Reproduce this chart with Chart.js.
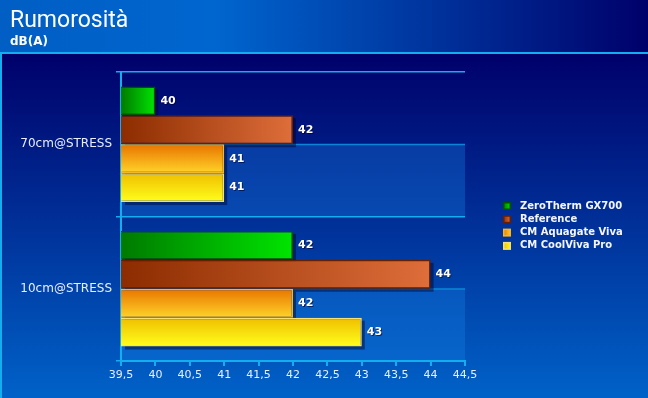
<!DOCTYPE html>
<html>
<head>
<meta charset="utf-8">
<script src="https://cdn.jsdelivr.net/npm/chart.js@4/dist/chart.umd.min.js"></script>
<style>
  html, body { margin: 0; padding: 0; background: #000066; }
  #noiseChart { display: block; }
</style>
</head>
<body>
<canvas id="noiseChart" width="648" height="398"></canvas>
<script>
// data
const categories = ['70cm@STRESS', '10cm@STRESS'];
const seriesNames = ['ZeroTherm GX700', 'Reference', 'CM Aquagate Viva', 'CM CoolViva Pro'];
const zeroTherm = [40, 42];
const reference = [42, 44];
const aquagate = [41, 42];
const coolViva = [41, 43];
const xMin = 39.5, xMax = 44.5, xStep = 0.5;

const titleText = 'Rumorosità';
const unitText = 'dB(A)';

// gradient stops per series: [start, end], horizontal or vertical
const fills = [
  { stops: ['#007a00', '#00e400'], vertical: false, border: '#005200' },
  { stops: ['#8c2c00', '#de6e3a'], vertical: false, border: '#6a1e00' },
  { stops: ['#e87400', '#ffd428'], vertical: true, border: '#f2b828' },
  { stops: ['#efbe00', '#ffff1c'], vertical: true, border: '#f8e070' }
];

const cyan = '#12aef0';
const font = 'DejaVu Sans';

function barFill(idx) {
  const f = fills[idx];
  return (ctx) => {
    const chart = ctx.chart;
    if (!chart.chartArea || ctx.type !== 'data') return f.stops[1];
    const xs = chart.scales.x, ys = chart.scales.y;
    let g;
    if (!f.vertical) {
      g = chart.ctx.createLinearGradient(xs.getPixelForValue(xMin), 0, xs.getPixelForValue(ctx.raw), 0);
    } else {
      const band = ys.height / categories.length;
      const thick = band * 0.8 / seriesNames.length;
      const top = ys.getPixelForValue(ctx.dataIndex) - band * 0.4 + ctx.datasetIndex * thick;
      g = chart.ctx.createLinearGradient(0, top, 0, top + thick);
    }
    g.addColorStop(0, f.stops[0]);
    g.addColorStop(1, f.stops[1]);
    return g;
  };
}

const seriesValues = [zeroTherm, reference, aquagate, coolViva];
const datasets = seriesNames.map((name, i) => ({
  label: name,
  data: seriesValues[i],
  backgroundColor: barFill(i),
  borderColor: fills[i].border,
  borderWidth: 1.5,
  borderSkipped: false,
  categoryPercentage: 0.8,
  barPercentage: 1.0
}));

// background, header, bands and shadows
const backdrop = {
  id: 'backdrop',
  beforeDraw(chart) {
    const c = chart.ctx, w = chart.width, h = chart.height;
    c.save();
    let g = c.createLinearGradient(0, 0, w, 0);
    g.addColorStop(0, '#005ec4');
    g.addColorStop(0.33, '#0066cf');
    g.addColorStop(1, '#00006a');
    c.fillStyle = g;
    c.fillRect(0, 0, w, 53);
    g = c.createLinearGradient(0, 54, 0, h);
    g.addColorStop(0, '#00006a');
    g.addColorStop(1, '#0062c8');
    c.fillStyle = g;
    c.fillRect(0, 54, w, h - 54);
    c.fillStyle = cyan;
    c.fillRect(0, 52, w, 2);
    c.fillRect(0, 52, 2, h - 52);

    c.fillStyle = '#ffffff';
    c.textBaseline = 'alphabetic';
    c.font = '23px Roboto';
    c.fillText(titleText, 10, 27);
    c.font = 'bold 12px ' + font;
    c.fillText(unitText, 10, 45);

    // alternating bands
    const a = chart.chartArea, ys = chart.scales.y;
    categories.forEach((_, i) => {
      const mid = ys.getPixelForValue(i);
      const end = i === categories.length - 1 ? a.bottom : (mid + ys.getPixelForValue(i + 1)) / 2;
      c.fillStyle = 'rgba(20,130,230,0.33)';
      c.fillRect(a.left, mid, a.right - a.left, end - mid);
      c.fillStyle = '#0a86d8';
      c.fillRect(a.left, mid - 0.5, a.right - a.left, 1.5);
    });
    c.restore();
  },
  beforeDatasetsDraw(chart) {
    const c = chart.ctx, left = chart.chartArea.left + 1;
    c.save();
    c.fillStyle = 'rgba(0,0,40,0.45)';
    chart.data.datasets.forEach((ds, i) => {
      chart.getDatasetMeta(i).data.forEach(el => {
        const p = el.getProps(['x', 'y', 'height'], true);
        c.fillRect(left + 3, p.y - p.height / 2 + 3, p.x - left, p.height);
      });
    });
    c.restore();
  },
  afterDatasetsDraw(chart) {
    const c = chart.ctx;
    c.save();
    c.font = 'bold 11px ' + font;
    c.textBaseline = 'middle';
    chart.data.datasets.forEach((ds, i) => {
      chart.getDatasetMeta(i).data.forEach((el, j) => {
        c.fillStyle = 'rgba(0,0,40,0.6)';
        c.fillText(String(ds.data[j]), el.x + 6, el.y + 1);
        c.fillStyle = '#ffffff';
        c.fillText(String(ds.data[j]), el.x + 5, el.y);
      });
    });
    // legend
    c.font = 'bold 10px ' + font;
    seriesNames.forEach((name, i) => {
      const y = 206 + i * 13.3;
      const g = c.createLinearGradient(503, 0, 511, 0);
      g.addColorStop(0, fills[i].stops[0]);
      g.addColorStop(1, fills[i].stops[1]);
      c.fillStyle = fills[i].border;
      c.fillRect(503, y - 4, 8, 8);
      c.fillStyle = g;
      c.fillRect(504.5, y - 2.5, 5, 5);
      c.fillStyle = '#f4f6ff';
      c.fillText(name, 520, y);
    });
    c.restore();
  }
};

new Chart(document.getElementById('noiseChart').getContext('2d'), {
  type: 'bar',
  data: { labels: categories, datasets: datasets },
  options: {
    indexAxis: 'y',
    responsive: false,
    animation: false,
    layout: { padding: { top: 72, right: 183, left: 0, bottom: 0 } },
    plugins: { legend: { display: false }, tooltip: { enabled: false } },
    scales: {
      x: {
        min: xMin,
        max: xMax,
        afterFit: s => { s.height = 37; },
        ticks: {
          stepSize: xStep,
          color: '#e8eeff',
          font: { family: font, size: 11 },
          padding: 3,
          maxRotation: 0,
          callback: v => String(v).replace('.', ',')
        },
        grid: { drawOnChartArea: false, color: cyan, lineWidth: 2, tickLength: 5 },
        border: { color: cyan, width: 2 }
      },
      y: {
        afterFit: s => { s.width = 121; },
        ticks: { color: '#e8eeff', font: { family: font, size: 12 }, padding: 4 },
        grid: { offset: true, color: cyan, lineWidth: 1.5, tickLength: 5 },
        border: { color: cyan, width: 2 }
      }
    }
  },
  plugins: [backdrop]
});
</script>
</body>
</html>
